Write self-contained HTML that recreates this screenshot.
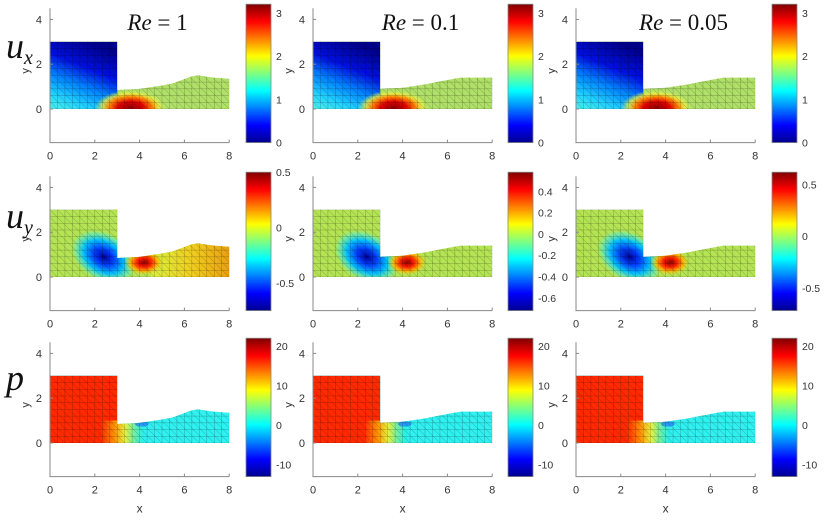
<!DOCTYPE html>
<html><head><meta charset="utf-8"><style>
body{margin:0;background:#fff;}
svg{display:block;font-family:"Liberation Sans",sans-serif;}
</style></head><body>
<svg id="fig" width="830" height="521" viewBox="0 0 830 521" xmlns="http://www.w3.org/2000/svg">
<defs>
<linearGradient id="jet" x1="0" y1="1" x2="0" y2="0">
<stop offset="0" stop-color="#00008f"/><stop offset="0.125" stop-color="#0000ff"/><stop offset="0.375" stop-color="#00ffff"/><stop offset="0.625" stop-color="#ffff00"/><stop offset="0.875" stop-color="#ff0000"/><stop offset="1" stop-color="#800000"/>
</linearGradient>
<linearGradient id="uxRect" x1="0.6" y1="0" x2="0.2" y2="1">
<stop offset="0" stop-color="#00008c"/><stop offset="0.35" stop-color="#0010e0"/><stop offset="0.6" stop-color="#0080ff"/><stop offset="0.85" stop-color="#20d0ff"/><stop offset="1" stop-color="#40e8f0"/>
</linearGradient>
<radialGradient id="uxRed"><stop offset="0" stop-color="#900000"/><stop offset="0.35" stop-color="#e00000"/><stop offset="0.6" stop-color="#ff8000"/><stop offset="0.8" stop-color="#f0f040" stop-opacity="0.8"/><stop offset="1" stop-color="#c0f060" stop-opacity="0"/></radialGradient>
<radialGradient id="uyBlue"><stop offset="0" stop-color="#00009a"/><stop offset="0.3" stop-color="#0040ff"/><stop offset="0.6" stop-color="#00c0ff"/><stop offset="0.85" stop-color="#60f0c0" stop-opacity="0.6"/><stop offset="1" stop-color="#b0e050" stop-opacity="0"/></radialGradient>
<radialGradient id="uyRed"><stop offset="0" stop-color="#900000"/><stop offset="0.35" stop-color="#ff2000"/><stop offset="0.65" stop-color="#ffb000"/><stop offset="1" stop-color="#d0f040" stop-opacity="0"/></radialGradient>
<linearGradient id="pTrans" x1="0" y1="0" x2="1" y2="0">
<stop offset="0" stop-color="#ff3000"/><stop offset="0.3" stop-color="#ff9000"/><stop offset="0.55" stop-color="#e8f040"/><stop offset="0.8" stop-color="#60f0b0"/><stop offset="1" stop-color="#20f0f0"/>
</linearGradient>
<linearGradient id="uyOrange" x1="0" y1="0" x2="1" y2="0">
<stop offset="0" stop-color="#d8f040"/><stop offset="0.5" stop-color="#f0d020"/><stop offset="1" stop-color="#e8a010"/>
</linearGradient>
</defs>
</svg>
<script>
// ---- data ----
const rowNames = ['u_x','u_y','p'];
const colTitles = ['Re = 1','Re = 0.1','Re = 0.05'];
const xTicks = [0,2,4,6,8];
const yTicks = [0,2,4];
const cbRanges = [[[0,3.2],[0,3.2],[0,3.2]],[[-0.75,0.5],[-0.72,0.58],[-0.72,0.62]],[[-13,22],[-13,22],[-13,22]]];
const cbTicks = [[[0,1,2,3],[0,1,2,3],[0,1,2,3]],[[-0.5,0,0.5],[-0.6,-0.4,-0.2,0,0.2,0.4],[-0.5,0,0.5]],[[-10,0,10,20],[-10,0,10,20],[-10,0,10,20]]];
const topX = [3,4,5,5.5,6.3,6.6,7.3,8];
const topY1 = [0.85,0.9,1.05,1.15,1.45,1.5,1.4,1.35];
const topY2 = [0.9,0.95,1.1,1.2,1.35,1.4,1.4,1.4];
// ---- layout ----
const colX0=[50,313,576], rowY0=[109,277,443], S=22.4, cbX=[246,508,772];
const NS='http://www.w3.org/2000/svg';
const svg=document.getElementById('fig');
function el(tag,attrs,parent){const e=document.createElementNS(NS,tag);for(const k in attrs)e.setAttribute(k,attrs[k]);(parent||svg).appendChild(e);return e;}
function sx(c,x){return colX0[c]+x*S;}
function sy(r,y){return rowY0[r]-y*S;}
let uid=0;
for(let r=0;r<3;r++)for(let c=0;c<3;c++){
  const g=el('g',{});
  
  
  const ty=c===0?topY1:topY2;
  let d='M'+sx(c,0)+','+sy(r,0)+' L'+sx(c,0)+','+sy(r,3)+' L'+sx(c,3)+','+sy(r,3);
  for(let i=0;i<topX.length;i++)d+=' L'+sx(c,topX[i])+','+sy(r,ty[i]);
  d+=' L'+sx(c,8)+','+sy(r,0)+' Z';
  const cid='clip'+(uid++);
  const cp=el('clipPath',{id:cid},g);el('path',{d:d},cp);
  const f=el('g',{'clip-path':'url(#'+cid+')'},g);
  const W=8*S;
  if(r===0){
    el('rect',{x:sx(c,0),y:sy(r,3.2),width:W,height:3.2*S,fill:'#b0e068'},f);
    el('rect',{x:sx(c,0),y:sy(r,3),width:3*S,height:3*S,fill:'url(#uxRect)'},f);
    el('ellipse',{cx:sx(c,3.6),cy:sy(r,0.05),rx:1.6*S,ry:0.8*S,fill:'url(#uxRed)'},f);
  } else if(r===1){
    el('rect',{x:sx(c,0),y:sy(r,3.2),width:W,height:3.2*S,fill:'#b4e454'},f);
    if(c===0) el('rect',{x:sx(c,4.5),y:sy(r,1.6),width:3.5*S,height:1.6*S,fill:'url(#uyOrange)'},f);
    el('ellipse',{cx:sx(c,2.4),cy:sy(r,0.9),rx:1.6*S,ry:1.1*S,fill:'url(#uyBlue)',transform:'rotate(30 '+sx(c,2.4)+' '+sy(r,0.9)+')'},f);
    el('ellipse',{cx:sx(c,4.2),cy:sy(r,0.65),rx:0.9*S,ry:0.6*S,fill:'url(#uyRed)'},f);
  } else {
    el('rect',{x:sx(c,0),y:sy(r,3.2),width:W,height:3.2*S,fill:'#30f0f0'},f);
    el('rect',{x:sx(c,0),y:sy(r,3),width:3*S,height:3*S,fill:'#ff2a00'},f);
    el('rect',{x:sx(c,2.3),y:sy(r,1),width:1.9*S,height:1*S,fill:'url(#pTrans)'},f);
    el('ellipse',{cx:sx(c,4.1),cy:sy(r,0.85),rx:0.3*S,ry:0.12*S,fill:'#2060ff',opacity:0.6},f);
  }
  // mesh
  let m='';
  for(let x=0;x<=8.01;x+=1/3)m+='M'+sx(c,x)+','+sy(r,0)+' V'+sy(r,3.2)+' ';
  for(let y=0;y<=3.01;y+=0.3)m+='M'+sx(c,0)+','+sy(r,y)+' H'+sx(c,8)+' ';
  for(let x=-3;x<=8;x+=1/3)m+='M'+sx(c,x)+','+sy(r,3)+' L'+sx(c,x+3)+','+sy(r,0)+' ';
  el('path',{d:m,stroke:'#000','stroke-opacity':0.3,'stroke-width':0.5,fill:'none'},f);
  // axes
  const ax=el('g',{},g);
  
  
  el('path',{d:'M'+sx(c,0)+','+sy(r,4.5)+' V'+sy(r,-1.5)+' H'+sx(c,8),stroke:'#888',fill:'none','stroke-width':1},ax);
  xTicks.forEach(t=>{
    el('line',{x1:sx(c,t),x2:sx(c,t),y1:sy(r,-1.5),y2:sy(r,-1.5)-3,stroke:'#888'},ax);
    const tx=el('text',{x:sx(c,t),y:sy(r,-1.5)+17,'text-anchor':'middle','font-size':11,fill:'#333'},ax);tx.textContent=t;
  });
  yTicks.forEach(t=>{
    el('line',{x1:sx(c,0),x2:sx(c,0)+3,y1:sy(r,t),y2:sy(r,t),stroke:'#888'},ax);
    const tx=el('text',{x:sx(c,0)-8,y:sy(r,t)+4,'text-anchor':'end','font-size':11,fill:'#333'},ax);tx.textContent=t;
  });
  const yl=el('text',{x:sx(c,0)-21,y:sy(r,1.7),'text-anchor':'middle','font-size':11,fill:'#333',transform:'rotate(-90 '+(sx(c,0)-21)+' '+sy(r,1.7)+')'},ax);yl.textContent='y';
  if(r===2){const xl=el('text',{x:sx(c,4),y:sy(r,-1.5)+36,'text-anchor':'middle','font-size':12,fill:'#333'},ax);xl.textContent='x';}
  // colorbar
  const cb=el('g',{},g);
  
  
  const top=sy(r,4.5)-4, bot=sy(r,-1.5), [lo,hi]=cbRanges[r][c];
  el('rect',{x:cbX[c],y:top,width:25,height:bot-top,fill:'url(#jet)',stroke:'#888','stroke-width':0.8},cb);
  cbTicks[r][c].forEach(t=>{
    const yy=bot-(t-lo)/(hi-lo)*(bot-top);
    const tx=el('text',{x:cbX[c]+30,y:yy+4,'font-size':10.5,fill:'#333'},cb);tx.textContent=t;
  });
}
colTitles.forEach((t,c)=>{
  const tx=el('text',{x:sx(c,4.8),y:30,'text-anchor':'middle','font-size':23,'font-family':'Liberation Serif, serif',fill:'#111'});
  
  
  const parts=t.split(' = ');
  tx.innerHTML='<tspan font-style="italic">'+parts[0]+'</tspan> = '+parts[1];
});
[['u','x',58],['u','y',228],['p','',390]].forEach(([a,b,y],r)=>{
  const tx=el('text',{x:6,y:y,'font-size':36,'font-style':'italic','font-family':'Liberation Serif, serif',fill:'#111'});
  
  
  tx.innerHTML=a+(b?'<tspan font-size="20" dy="6">'+b+'</tspan>':'');
});
</script>
</body></html>
